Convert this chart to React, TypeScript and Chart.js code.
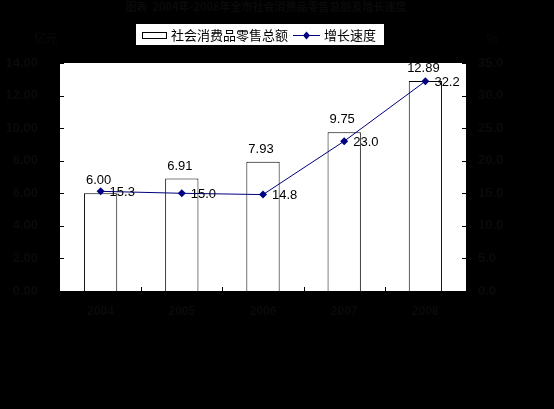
import React, { useEffect, useRef } from "react";
import { Chart, registerables } from "chart.js";

Chart.register(...registerables);

const years = ["2004", "2005", "2006", "2007", "2008"];
const retailTotals = [6.0, 6.91, 7.93, 9.75, 12.89];
const growthRates = [15.3, 15.0, 14.8, 23.0, 32.2];
const titleText = "图表  2004年-2008年全市社会消费品零售总额及增长速度";
const leftUnit = "亿元";
const rightUnit = "%";
const barLegend = "社会消费品零售总额";
const lineLegend = "增长速度";

const NAVY = "#000080";
const DIM = "#0a0a0a";
const LATIN = "'Liberation Sans', Arial, sans-serif";
const CJK = "'Noto Sans CJK SC', 'Liberation Sans', sans-serif";

const decorPlugin = {
  id: "decor",
  beforeDraw(chart: any) {
    const { ctx, chartArea, width, height } = chart;
    ctx.save();
    ctx.fillStyle = "#000";
    ctx.fillRect(0, 0, width, height);
    ctx.fillStyle = "#fff";
    ctx.fillRect(chartArea.left, chartArea.top, chartArea.right - chartArea.left, chartArea.bottom - chartArea.top);
    ctx.restore();
  },
  afterDatasetsDraw(chart: any) {
    const { ctx, chartArea } = chart;
    const { left, right, bottom } = chartArea;
    ctx.save();
    ctx.strokeStyle = "#000";
    ctx.lineWidth = 1;
    const ys = chart.scales.y;
    ys.ticks.forEach((t: any) => {
      const py = Math.round(ys.getPixelForValue(t.value)) + 0.5;
      ctx.beginPath();
      ctx.moveTo(left, py);
      ctx.lineTo(left + 4, py);
      ctx.stroke();
    });
    const y1 = chart.scales.y1;
    y1.ticks.forEach((t: any) => {
      const py = Math.round(y1.getPixelForValue(t.value)) + 0.5;
      ctx.beginPath();
      ctx.moveTo(right - 4, py);
      ctx.lineTo(right, py);
      ctx.stroke();
    });
    const step = (right - left) / years.length;
    for (let i = 1; i < years.length; i++) {
      const px = Math.round(left + step * i) + 0.5;
      ctx.beginPath();
      ctx.moveTo(px, bottom);
      ctx.lineTo(px, bottom - 4);
      ctx.stroke();
    }
    ctx.fillStyle = "#000";
    ctx.font = `13px ${LATIN}`;
    ctx.textAlign = "center";
    ctx.textBaseline = "bottom";
    const barMeta = chart.getDatasetMeta(0);
    barMeta.data.forEach((el: any, i: number) => {
      ctx.fillText(retailTotals[i].toFixed(2), el.x - 2, el.y - 6);
    });
    ctx.textAlign = "left";
    ctx.textBaseline = "middle";
    const lineMeta = chart.getDatasetMeta(1);
    lineMeta.data.forEach((el: any, i: number) => {
      ctx.fillText(growthRates[i].toFixed(1), el.x + 9, el.y + 1);
    });
    ctx.restore();
  },
  afterDraw(chart: any) {
    const { ctx } = chart;
    ctx.save();
    ctx.fillStyle = DIM;
    ctx.font = `bold 11px ${CJK}`;
    ctx.textAlign = "center";
    ctx.textBaseline = "middle";
    ctx.fillText(titleText, 266, 7);
    ctx.font = `12px ${CJK}`;
    ctx.fillText(leftUnit, 46, 38);
    ctx.fillText(rightUnit, 492, 38);
    ctx.fillStyle = "#fff";
    ctx.fillRect(136, 24, 248, 21);
    ctx.strokeStyle = "#000";
    ctx.lineWidth = 1;
    ctx.strokeRect(142.5, 32.5, 24, 6);
    ctx.fillStyle = "#000";
    ctx.font = `13px ${CJK}`;
    ctx.textAlign = "left";
    ctx.textBaseline = "middle";
    ctx.fillText(barLegend, 171, 35);
    ctx.strokeStyle = NAVY;
    ctx.beginPath();
    ctx.moveTo(293, 35.5);
    ctx.lineTo(320, 35.5);
    ctx.stroke();
    ctx.fillStyle = NAVY;
    ctx.beginPath();
    ctx.moveTo(306.5, 31.5);
    ctx.lineTo(310, 35.5);
    ctx.lineTo(306.5, 39.5);
    ctx.lineTo(303, 35.5);
    ctx.closePath();
    ctx.fill();
    ctx.fillStyle = "#000";
    ctx.fillText(lineLegend, 324, 35);
    ctx.restore();
  },
};

export default function App() {
  const ref = useRef<HTMLCanvasElement>(null);
  useEffect(() => {
    document.body.style.margin = "0";
    document.body.style.background = "#000";
    const canvas = ref.current!;
    const chart = new Chart(canvas, {
      type: "bar",
      data: {
        labels: years,
        datasets: [
          {
            type: "bar",
            label: barLegend,
            data: retailTotals,
            backgroundColor: "#fff",
            borderColor: "#000",
            borderWidth: 1,
            barPercentage: 0.41,
            categoryPercentage: 1,
            yAxisID: "y",
            order: 1,
          },
          {
            type: "line",
            label: lineLegend,
            data: growthRates,
            borderColor: NAVY,
            backgroundColor: NAVY,
            borderWidth: 1,
            pointStyle: "rectRot",
            pointRadius: 4,
            pointBorderWidth: 0,
            tension: 0,
            yAxisID: "y1",
            order: 0,
          } as any,
        ],
      },
      options: {
        responsive: false,
        animation: false,
        devicePixelRatio: 1,
        layout: { padding: { top: 63, left: 0, right: 0, bottom: 0 } },
        plugins: {
          legend: { display: false },
          title: { display: false },
          tooltip: { enabled: false },
        },
        scales: {
          x: {
            grid: { display: false, drawTicks: false },
            border: { display: false },
            ticks: { color: DIM, padding: 13, font: { family: LATIN, size: 12, weight: "bold" } },
            afterFit: (s: any) => { s.height = 118; },
          },
          y: {
            position: "left",
            min: 0,
            max: 14,
            grid: { display: false, drawTicks: false },
            border: { display: false },
            ticks: {
              stepSize: 2,
              color: DIM,
              padding: 22,
              font: { family: LATIN, size: 13, weight: "bold" },
              callback: (v: any) => Number(v).toFixed(2),
            },
            afterFit: (s: any) => { s.width = 60; },
          },
          y1: {
            position: "right",
            min: 0,
            max: 35,
            grid: { display: false, drawTicks: false },
            border: { display: false },
            ticks: {
              stepSize: 5,
              color: DIM,
              padding: 12,
              font: { family: LATIN, size: 13, weight: "bold" },
              callback: (v: any) => Number(v).toFixed(1),
            },
            afterFit: (s: any) => { s.width = 88; },
          },
        },
      } as any,
      plugins: [decorPlugin],
    });
    return () => chart.destroy();
  }, []);
  return <canvas ref={ref} width={554} height={409} style={{ display: "block", width: 554, height: 409 }} />;
}
